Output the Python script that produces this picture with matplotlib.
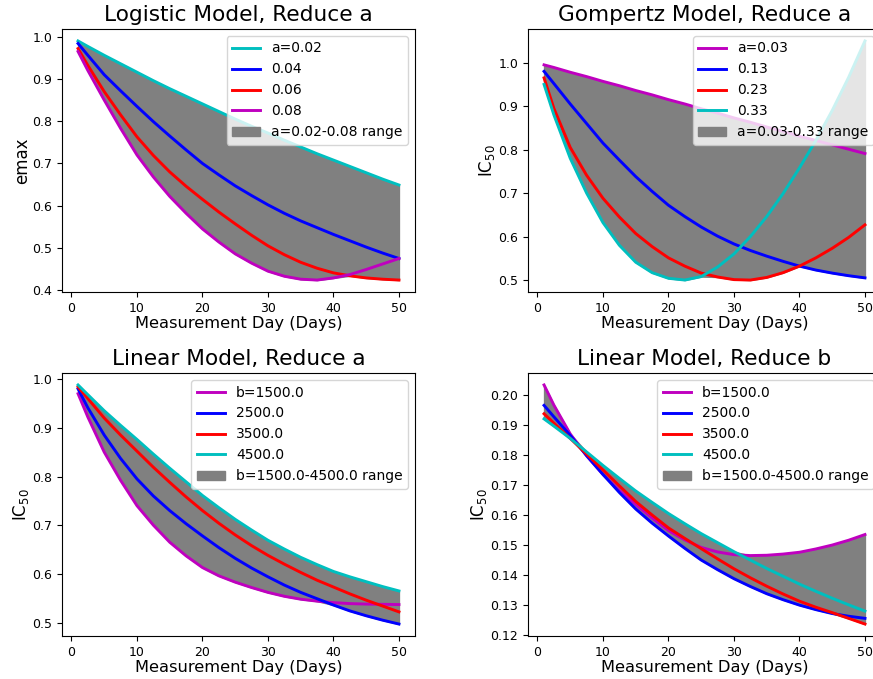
import numpy as np
import matplotlib
matplotlib.use("Agg")
import matplotlib.pyplot as plt

# dias de medicion (comunes a todos los paneles)
days = [1, 2.5, 5, 7.5, 10, 12.5, 15, 17.5, 20, 22.5, 25,
        27.5, 30, 32.5, 35, 37.5, 40, 42.5, 45, 47.5, 50]

# Logistic, reduce a
log_labels = ["a=0.02", "0.04", "0.06", "0.08"]
log_a002 = [0.990, 0.977, 0.956, 0.936, 0.916, 0.896, 0.877, 0.859, 0.841, 0.823, 0.805,
            0.788, 0.772, 0.755, 0.739, 0.723, 0.708, 0.693, 0.678, 0.663, 0.649]
log_a004 = [0.984, 0.956, 0.910, 0.872, 0.835, 0.799, 0.765, 0.732, 0.700, 0.673, 0.647,
            0.624, 0.602, 0.582, 0.564, 0.548, 0.532, 0.517, 0.502, 0.488, 0.475]
log_a006 = [0.972, 0.932, 0.870, 0.815, 0.763, 0.719, 0.680, 0.646, 0.615, 0.585, 0.557,
            0.530, 0.505, 0.484, 0.466, 0.452, 0.441, 0.434, 0.429, 0.426, 0.424]
log_a008 = [0.965, 0.920, 0.850, 0.783, 0.720, 0.668, 0.622, 0.582, 0.545, 0.514, 0.486,
            0.464, 0.445, 0.433, 0.426, 0.424, 0.429, 0.437, 0.449, 0.462, 0.475]

# Gompertz, reduce a
gom_labels = ["a=0.03", "0.13", "0.23", "0.33"]
gom_a003 = [0.995, 0.989, 0.978, 0.968, 0.957, 0.947, 0.936, 0.926, 0.915, 0.905, 0.894,
            0.884, 0.873, 0.863, 0.852, 0.842, 0.831, 0.821, 0.811, 0.801, 0.791]
gom_a013 = [0.980, 0.952, 0.905, 0.860, 0.815, 0.776, 0.738, 0.704, 0.672, 0.646, 0.622,
            0.601, 0.583, 0.568, 0.555, 0.543, 0.532, 0.523, 0.516, 0.510, 0.505]
gom_a023 = [0.965, 0.895, 0.805, 0.741, 0.688, 0.645, 0.607, 0.577, 0.551, 0.532, 0.516,
            0.507, 0.501, 0.500, 0.506, 0.517, 0.532, 0.551, 0.573, 0.598, 0.627]
gom_a033 = [0.950, 0.880, 0.780, 0.700, 0.632, 0.580, 0.541, 0.517, 0.504, 0.500, 0.508,
            0.530, 0.560, 0.600, 0.646, 0.699, 0.758, 0.821, 0.890, 0.966, 1.050]

# Linear, reduce a
lina_labels = ["b=1500.0", "2500.0", "3500.0", "4500.0"]
lina_b1500 = [0.970, 0.922, 0.850, 0.792, 0.740, 0.700, 0.665, 0.637, 0.613, 0.596, 0.583,
              0.572, 0.562, 0.554, 0.548, 0.544, 0.541, 0.539, 0.538, 0.5375, 0.537]
lina_b2500 = [0.980, 0.941, 0.885, 0.837, 0.795, 0.760, 0.730, 0.703, 0.678, 0.654, 0.632,
              0.612, 0.594, 0.577, 0.562, 0.549, 0.536, 0.524, 0.514, 0.505, 0.497]
lina_b3500 = [0.984, 0.960, 0.920, 0.885, 0.852, 0.819, 0.788, 0.758, 0.730, 0.704, 0.680,
              0.658, 0.638, 0.620, 0.603, 0.587, 0.573, 0.559, 0.546, 0.534, 0.522]
lina_b4500 = [0.988, 0.968, 0.935, 0.905, 0.876, 0.846, 0.817, 0.789, 0.761, 0.736, 0.712,
              0.690, 0.669, 0.651, 0.634, 0.619, 0.605, 0.594, 0.584, 0.574, 0.565]

# Linear, reduce b
linb_labels = ["b=1500.0", "2500.0", "3500.0", "4500.0"]
linb_b1500 = [0.2033, 0.1966, 0.1870, 0.1797, 0.1735, 0.1682, 0.1635, 0.1590, 0.1548, 0.1517, 0.1492,
              0.1477, 0.1468, 0.1465, 0.1466, 0.1470, 0.1476, 0.1487, 0.1500, 0.1516, 0.1535]
linb_b2500 = [0.1965, 0.1927, 0.1865, 0.1798, 0.1735, 0.1675, 0.1620, 0.1573, 0.1530, 0.1489, 0.1450,
              0.1418, 0.1388, 0.1362, 0.1338, 0.1318, 0.1300, 0.1285, 0.1272, 0.1263, 0.1256]
linb_b3500 = [0.1937, 0.1906, 0.1855, 0.1803, 0.1750, 0.1697, 0.1645, 0.1600, 0.1557, 0.1522, 0.1488,
              0.1454, 0.1421, 0.1391, 0.1363, 0.1337, 0.1313, 0.1293, 0.1275, 0.1256, 0.1237]
linb_b4500 = [0.1920, 0.1896, 0.1855, 0.1810, 0.1765, 0.1722, 0.1680, 0.1642, 0.1605, 0.1571, 0.1538,
              0.1508, 0.1478, 0.1450, 0.1422, 0.1396, 0.1370, 0.1346, 0.1323, 0.1301, 0.1280]

fig = plt.figure(figsize=(8.73, 6.79), dpi=100)

paneles = [
    ([62, 29], "Logistic Model, Reduce a", "emax",
     [log_a002, log_a004, log_a006, log_a008], ["c", "b", "r", "m"], log_labels, "a=0.02-0.08 range"),
    ([528, 29], "Gompertz Model, Reduce a", "IC$_{50}$",
     [gom_a003, gom_a013, gom_a023, gom_a033], ["m", "b", "r", "c"], gom_labels, "a=0.03-0.33 range"),
    ([62, 373], "Linear Model, Reduce a", "IC$_{50}$",
     [lina_b1500, lina_b2500, lina_b3500, lina_b4500], ["m", "b", "r", "c"], lina_labels, "b=1500.0-4500.0 range"),
    ([528, 373], "Linear Model, Reduce b", "IC$_{50}$",
     [linb_b1500, linb_b2500, linb_b3500, linb_b4500], ["m", "b", "r", "c"], linb_labels, "b=1500.0-4500.0 range"),
]

W, H = 873, 679
for (pos, titulo, ylab, series, colores, etiquetas, rango) in paneles:
    x0, y0 = pos
    ax = fig.add_axes([x0 / W, 1 - (y0 + 263) / H, 353 / W, 263 / H])
    for serie, col, lab in zip(series, colores, etiquetas):
        ax.plot(days, serie, color=col, lw=2.1, label=lab)
    arr = np.array(series)
    ax.fill_between(days, arr.min(axis=0), arr.max(axis=0), color="gray", label=rango)
    ax.set_title(titulo, fontsize=15.6)
    ax.set_xlabel("Measurement Day (Days)", fontsize=11.7, labelpad=1)
    ax.set_ylabel(ylab, fontsize=12, labelpad=1)
    ax.tick_params(labelsize=9)
    ax.set_xticks([0, 10, 20, 30, 40, 50])
    ax.legend(loc="upper right", fontsize=10)

fig.savefig("out.png", dpi=100)
